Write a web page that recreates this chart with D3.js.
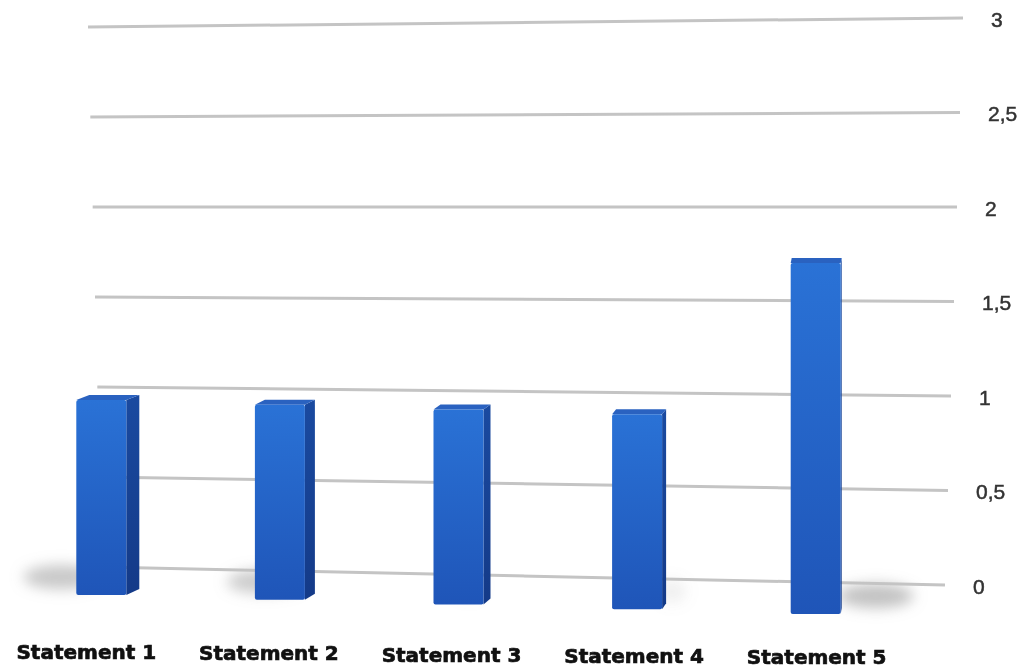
<!DOCTYPE html>
<html>
<head>
<meta charset="utf-8">
<script src="https://cdn.jsdelivr.net/npm/d3@7"></script>
<style>
  body { margin: 0; background: #fff; }
</style>
</head>
<body>
<div id="chart"></div>
<script>
// data
var categories = ["Statement 1", "Statement 2", "Statement 3", "Statement 4", "Statement 5"];
var values = [1, 1, 1, 1, 1.8];
var tickValues = [0, 0.5, 1, 1.5, 2, 2.5, 3];

var width = 1031, height = 668;

var svg = d3.select("#chart")
    .append("svg")
    .attr("width", width)
    .attr("height", height);

var defs = svg.append("defs");

defs.append("filter").attr("id", "blur")
    .attr("x", "-50%").attr("y", "-50%").attr("width", "200%").attr("height", "200%")
    .append("feGaussianBlur").attr("stdDeviation", 7);

defs.append("filter").attr("id", "soft")
    .append("feGaussianBlur").attr("stdDeviation", 0.6);

var front = defs.append("linearGradient").attr("id", "front")
    .attr("x1", 0).attr("y1", 0).attr("x2", 0).attr("y2", 1);
front.append("stop").attr("offset", "0%").attr("stop-color", "#2a72d6");
front.append("stop").attr("offset", "100%").attr("stop-color", "#1f55b8");

var side = defs.append("linearGradient").attr("id", "side")
    .attr("x1", 0).attr("y1", 0).attr("x2", 0).attr("y2", 1);
side.append("stop").attr("offset", "0%").attr("stop-color", "#1a4aa0");
side.append("stop").attr("offset", "100%").attr("stop-color", "#143a88");

// back wall in perspective: left and right ends of each gridline
var xL = d3.scaleLinear().domain([0, 3]).range([102, 88]);
var yL = d3.scaleLinear().domain([0, 3]).range([567, 27]);
var xR = d3.scaleLinear().domain([0, 3]).range([945, 963]);
var yR = d3.scaleLinear().domain([0, 3]).range([585, 18]);

var fmt = d3.formatLocale({ decimal: ",", thousands: ".", grouping: [3], currency: ["", ""] }).format("~g");

var x = d3.scaleBand()
    .domain(categories)
    .range([12, 905])
    .paddingInner(0.72)
    .paddingOuter(0.36);

// bars stand in front of the wall
var baseY = d3.scaleLinear().domain([99, 817]).range([595, 614]);
var barH = d3.scaleLinear().domain([0, 3]).range([0, 585]);
var sideW = d3.scaleLinear().domain([0, categories.length - 1]).range([13, 1]);
var shadowDx = d3.scaleLinear().domain([0, categories.length - 1]).range([-40, 60]);
var labelY = d3.scaleLinear().domain([99, 817]).range([659, 664]);

// shadows under everything
var shadows = svg.append("g").attr("filter", "url(#blur)");
categories.forEach(function (c, i) {
    var cx = x(c) + x.bandwidth() / 2;
    var by = baseY(cx);
    var op = [0.55, 0.5, 0.15, 0.15, 0.6][i];
    shadows.append("ellipse")
        .attr("cx", cx + shadowDx(i))
        .attr("cy", by - 18)
        .attr("rx", op < 0.3 ? 14 : 38)
        .attr("ry", 12)
        .attr("fill", "#9a9a9a")
        .attr("opacity", op);
});

// gridlines
var grid = svg.append("g").attr("filter", "url(#soft)");
grid.selectAll("line")
    .data(tickValues)
    .join("line")
    .attr("x1", function (d) { return xL(d); })
    .attr("y1", function (d) { return yL(d); })
    .attr("x2", function (d) { return xR(d); })
    .attr("y2", function (d) { return yR(d); })
    .attr("stroke", "#c4c4c4")
    .attr("stroke-width", 3);

// axis labels on the right
svg.append("g").selectAll("text")
    .data(tickValues)
    .join("text")
    .attr("x", function (d) { return xR(d) + 28; })
    .attr("y", function (d) { return yR(d) + 3; })
    .attr("dominant-baseline", "middle")
    .attr("font-family", "Liberation Sans, Arial, sans-serif")
    .attr("font-size", 21)
    .attr("fill", "#333")
    .attr("stroke", "#333")
    .attr("stroke-width", 0.5)
    .text(function (d) { return fmt(d); });

// bars
var bars = svg.append("g");
categories.forEach(function (c, i) {
    var x0 = x(c), w = x.bandwidth();
    var cx = x0 + w / 2;
    var by = baseY(cx);
    var ty = by - barH(values[i]);
    var sw = sideW(i);
    var g = bars.append("g");

    // side face
    g.append("path")
        .attr("d", "M" + (x0 + w) + "," + ty +
            "L" + (x0 + w + sw) + "," + (ty - 5) +
            "L" + (x0 + w + sw) + "," + (by - 6) +
            "L" + (x0 + w) + "," + by + "Z")
        .attr("fill", "url(#side)");

    // top face
    g.append("path")
        .attr("d", "M" + x0 + "," + ty +
            "L" + (x0 + sw) + "," + (ty - 5) +
            "L" + (x0 + w + sw) + "," + (ty - 5) +
            "L" + (x0 + w) + "," + ty + "Z")
        .attr("fill", "#2a62c0");

    // front face
    g.append("rect")
        .attr("x", x0)
        .attr("y", ty)
        .attr("width", w)
        .attr("height", by - ty)
        .attr("rx", 2)
        .attr("fill", "url(#front)");
});

// category labels
svg.append("g").selectAll("text")
    .data(categories)
    .join("text")
    .attr("x", function (d, i) { return x(d) + x.bandwidth() / 2 - 15 + i * 4; })
    .attr("y", function (d) { return labelY(x(d) + x.bandwidth() / 2); })
    .attr("text-anchor", "middle")
    .attr("font-family", "DejaVu Sans, sans-serif")
    .attr("font-weight", "bold")
    .attr("font-size", 20)
    .attr("fill", "#111")
    .attr("stroke", "#111")
    .attr("stroke-width", 0.7)
    .text(function (d) { return d; });
</script>
</body>
</html>
